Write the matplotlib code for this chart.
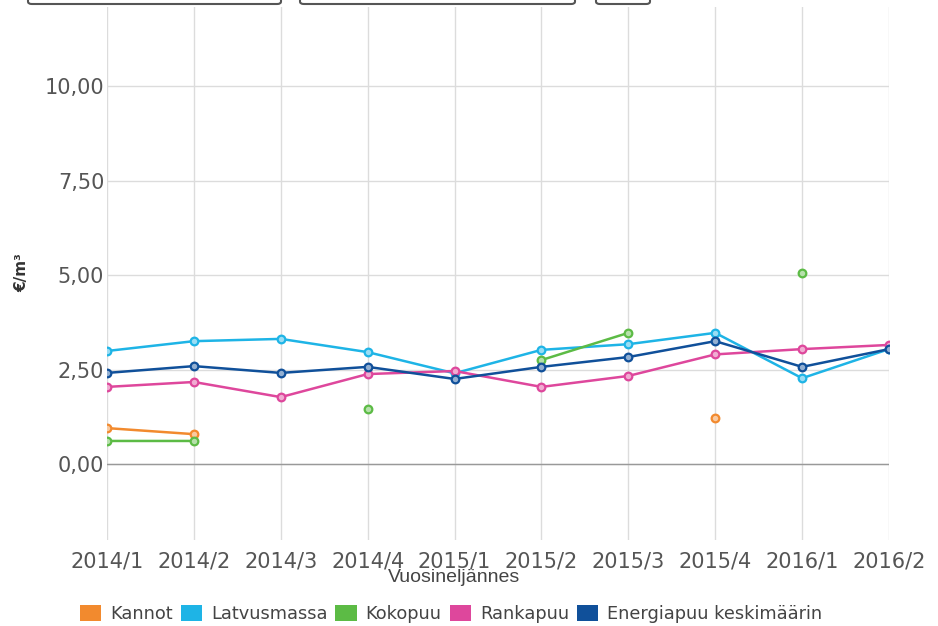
import numpy as np
import matplotlib
matplotlib.use("Agg")
import matplotlib.pyplot as plt
from matplotlib.patches import Patch, FancyBboxPatch
from matplotlib.ticker import FuncFormatter

nan = np.nan

#~~~~~~~~~~~~~~~~~~~~~~~~~ data ~~~~~~~~~~~~~~~~~~~~~~~~~
quarters = ['2014/1', '2014/2', '2014/3', '2014/4', '2015/1',
            '2015/2', '2015/3', '2015/4', '2016/1', '2016/2']

kannot      = [0.95, 0.79, nan, nan, nan, nan, nan, 1.22, nan, nan]
latvusmassa = [2.99, 3.25, 3.31, 2.96, 2.40, 3.02, 3.17, 3.47, 2.27, 3.04]
kokopuu     = [0.61, 0.61, nan, 1.46, nan, 2.75, 3.47, nan, 5.05, nan]
rankapuu    = [2.04, 2.17, 1.77, 2.38, 2.46, 2.04, 2.33, 2.90, 3.04, 3.15]
energiapuu  = [2.41, 2.59, 2.41, 2.57, 2.25, 2.57, 2.83, 3.25, 2.57, 3.04]

names  = ['Kannot', 'Latvusmassa', 'Kokopuu', 'Rankapuu', 'Energiapuu keskimäärin']
series = [kannot, latvusmassa, kokopuu, rankapuu, energiapuu]
colors = ['#F28A2E', '#1EB4E6', '#5CBB45', '#DE479C', '#10509A']
yticks = [0.0, 2.5, 5.0, 7.5, 10.0]

#~~~~~~~~~~~~~~~~~~~~~~~~~ figure ~~~~~~~~~~~~~~~~~~~~~~~~~
W, H = 938, 626
fig = plt.figure(figsize=(W/100, H/100), dpi=100)
ax = fig.add_axes([107/W, 86/H, (889-107)/W, (540-7)/H])

x = np.arange(len(quarters))

def lighter(c, f=0.55):
    rgb = np.array(matplotlib.colors.to_rgb(c))
    return tuple(rgb + (1 - rgb) * f)

for name, vals, c in zip(names, series, colors):
    ax.plot(x, np.array(vals, dtype=float), color=c, lw=1.8, marker='o',
            ms=5.5, mfc=lighter(c), mec=c, mew=1.6, label=name,
            solid_joinstyle='round')

ax.set_xlim(0, len(quarters) - 1)
ax.set_ylim(-2.01, 12.09)
ax.set_xticks(x)
ax.set_xticklabels(quarters)
ax.set_yticks(yticks)
ax.yaxis.set_major_formatter(FuncFormatter(lambda v, p: f"{v:.2f}".replace('.', ',')))

ax.grid(True, color='#dcdcdc', lw=1.0)
ax.set_axisbelow(True)
ax.axhline(0, color='#999999', lw=1.0, zorder=1)
for s in ax.spines.values():
    s.set_visible(False)
ax.tick_params(axis='both', length=0, labelsize=15, colors='#555555')
ax.tick_params(axis='x', pad=8)
ax.tick_params(axis='y', pad=2)

fig.text(454/W, 1 - 578/H, 'Vuosineljännes', ha='center', va='center',
         fontsize=14, color='#444444',
         family=['Liberation Sans Narrow', 'Liberation Sans', 'DejaVu Sans'])
fig.text(22/W, 1 - 273/H, '€/m³', rotation=90, ha='center', va='center',
         fontsize=11, fontweight='bold', color='#333333')

handles = [Patch(facecolor=c, edgecolor='none') for c in colors]
leg = fig.legend(handles, names, loc='center', bbox_to_anchor=(451/W, 1 - 614/H),
                 ncol=5, frameon=False, fontsize=12.8, handlelength=1.2,
                 handleheight=1.0, handletextpad=0.5, columnspacing=0.45,
                 borderaxespad=0, borderpad=0)
for t in leg.get_texts():
    t.set_color('#444444')

# remnants of toolbar buttons at the very top
for x0, x1 in [(28, 281), (300, 575), (596, 650)]:
    fig.patches.append(FancyBboxPatch((x0/W, 1.0 - 4/H), (x1-x0)/W, 10/H,
                                      boxstyle='round,pad=0,rounding_size=0.004',
                                      transform=fig.transFigure, facecolor='white',
                                      edgecolor='#555555', lw=1.5))

fig.savefig('out.png', dpi=100)
